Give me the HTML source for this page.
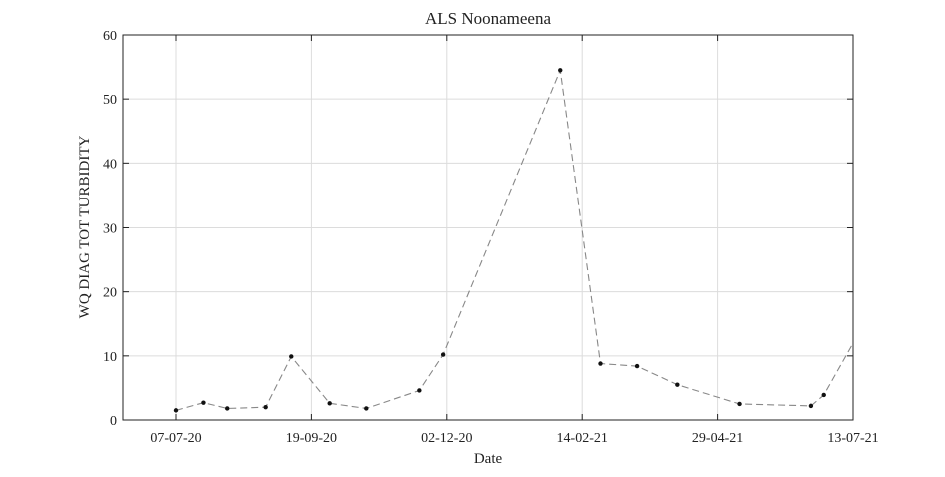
<!DOCTYPE html>
<html><head><meta charset="utf-8"><style>
body{margin:0;background:#fff;width:945px;height:472px;overflow:hidden}
svg text{font-family:"Liberation Serif",serif;fill:#222}
</style></head><body>
<svg width="945" height="472">
<rect width="945" height="472" fill="#fff"/>
<g id="grid"></g><g id="series"></g><g id="axes"></g>
<text x="488" y="24" font-size="17" text-anchor="middle">ALS Noonameena</text>
<text x="488" y="463" font-size="15" text-anchor="middle">Date</text>
<text transform="translate(89,227) rotate(-90)" font-size="15" text-anchor="middle">WQ DIAG TOT TURBIDITY</text>
</svg>
<script>
// days since 2020-07-07
const dayOffsets=[0,15,28,49,63,84,104,133,146,210,232,252,274,308,347,354,372];
const turbidity=[1.5,2.7,1.8,2.0,9.9,2.6,1.8,4.6,10.2,54.5,8.8,8.4,5.5,2.5,2.2,3.9,13];
const xTickDays=[0,74,148,222,296,370];
const xTickLabels=["07-07-20","19-09-20","02-12-20","14-02-21","29-04-21","13-07-21"];
const yTicks=[0,10,20,30,40,50,60];
const L=123,R=853,T=35,B=420;
const x=d=>176+d*(677/370);
const y=v=>B-(v/60)*(B-T);
const NS="http://www.w3.org/2000/svg";
function mk(tag,attrs,parent){const e=document.createElementNS(NS,tag);for(const k in attrs)e.setAttribute(k,attrs[k]);parent.appendChild(e);return e;}
const grid=document.getElementById('grid'),axes=document.getElementById('axes'),series=document.getElementById('series');
yTicks.forEach(v=>{
  const g=mk('line',{x1:L,x2:R,y1:y(v),y2:y(v),stroke:'#dcdcdc','stroke-width':1},grid);
  
  mk('line',{x1:L,x2:L+6,y1:y(v),y2:y(v),stroke:'#222'},axes);
  mk('line',{x1:R,x2:R-6,y1:y(v),y2:y(v),stroke:'#222'},axes);
  const t=mk('text',{x:L-6,y:y(v)+5,'font-size':14,'text-anchor':'end'},axes);t.textContent=v;
  
});
xTickDays.forEach((d,i)=>{
  const g=mk('line',{x1:x(d),x2:x(d),y1:T,y2:B,stroke:'#dcdcdc'},grid);
  
  mk('line',{x1:x(d),x2:x(d),y1:B,y2:B-6,stroke:'#222'},axes);
  mk('line',{x1:x(d),x2:x(d),y1:T,y2:T+6,stroke:'#222'},axes);
  const t=mk('text',{x:x(d),y:B+22,'font-size':14,'text-anchor':'middle'},axes);t.textContent=xTickLabels[i];
  
});
const fr=mk('rect',{x:L,y:T,width:R-L,height:B-T,fill:'none',stroke:'#222'},axes);

const cp=mk('clipPath',{id:'clip'},series);mk('rect',{x:L,y:T,width:R-L,height:B-T},cp);
const pts=dayOffsets.map((d,i)=>x(d)+','+y(turbidity[i])).join(' ');
const pl=mk('polyline',{points:pts,fill:'none',stroke:'#888','stroke-width':1.1,'stroke-dasharray':'7,4','clip-path':'url(#clip)'},series);

dayOffsets.forEach((d,i)=>{
  if(x(d)>R)return;
  const c=mk('circle',{cx:x(d),cy:y(turbidity[i]),r:2.2,fill:'#111'},series);
  
});
</script>
</body></html>
